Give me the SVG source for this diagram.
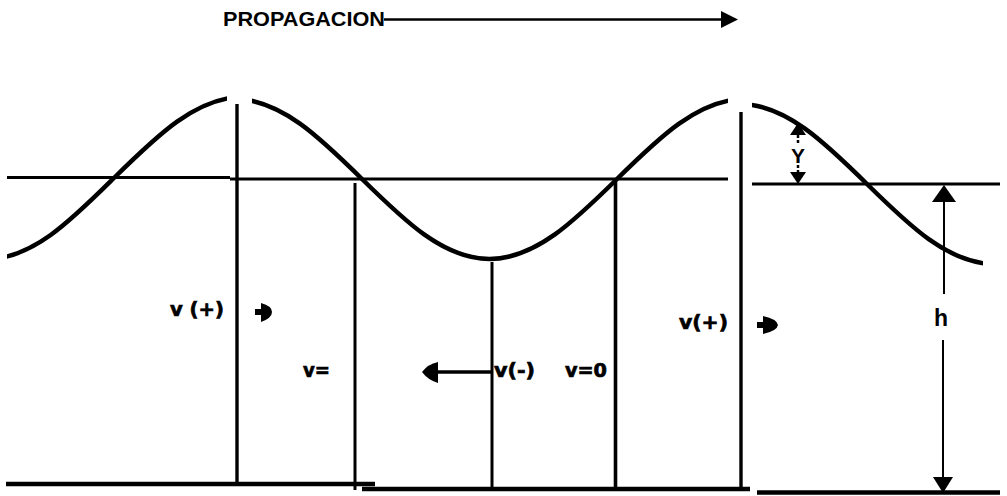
<svg xmlns="http://www.w3.org/2000/svg" width="1007" height="496" viewBox="0 0 1007 496">
<style>
.wave{fill:none;stroke:#000;stroke-width:4.5}
.ln{stroke:#000;stroke-width:3;fill:none}
.bl{stroke:#000;stroke-width:4.5;fill:none}
.thin{stroke:#000;stroke-width:2;fill:none}
.lbl{font-family:"DejaVu Sans","Liberation Sans",sans-serif;font-weight:bold;font-size:19px;fill:#000;stroke:#000;stroke-width:0.7}
.ttl{font-family:"Liberation Sans",Arial,sans-serif;font-weight:bold;font-size:20px;fill:#000}
.ah{fill:#000}
</style>
<defs>
<clipPath id="c1"><rect x="7" y="0" width="220" height="496"/></clipPath>
<clipPath id="c2"><rect x="252" y="0" width="476" height="496"/></clipPath>
<clipPath id="c3"><rect x="752" y="0" width="231" height="496"/></clipPath>
</defs>
<rect width="1007" height="496" fill="#fff"/>

<g id="title">
<text class="ttl" x="223" y="26" textLength="162" lengthAdjust="spacingAndGlyphs">PROPAGACION</text>
<line class="thin" x1="384" y1="19.5" x2="724" y2="19.5" style="stroke-width:2.6"/>
<polygon class="ah" points="721,11 738,19.5 721,28"/>
</g>

<g id="wave">
<path class="wave" clip-path="url(#c1)" d="M -12.5 259 C 33.6 259 73.4 218 115 177 C 156.6 136 196.4 97 242.5 97"/>
<path class="wave" clip-path="url(#c2)" d="M 234.5 99 C 280.6 99 320.4 138 362 179 C 403.6 220 443.4 259 489.5 259 C 535.6 259 575.4 220 617 179 C 658.6 138 698.4 99 744.5 99"/>
<path class="wave" clip-path="url(#c3)" d="M 739.5 104 C 785.6 104 825.4 143 867 184 C 908.6 225 948.4 264 994.5 264"/>
</g>

<g id="levels">
<line class="ln" x1="7" y1="177.5" x2="230" y2="177.5"/>
<line class="ln" x1="230" y1="179" x2="728" y2="179"/>
<line class="ln" x1="752" y1="184" x2="1000" y2="184"/>
</g>

<g id="verticals">
<line class="ln" x1="237" y1="104" x2="237" y2="485" style="stroke-width:3.4"/>
<line class="ln" x1="355" y1="183" x2="355" y2="490"/>
<line class="ln" x1="492" y1="262" x2="492" y2="489"/>
<line class="ln" x1="615.5" y1="179" x2="615.5" y2="489" style="stroke-width:3.6"/>
<line class="ln" x1="741" y1="112" x2="741" y2="489" style="stroke-width:3.4"/>
</g>

<g id="bottoms">
<line class="bl" x1="6" y1="484" x2="375" y2="484"/>
<line class="bl" x1="362" y1="489" x2="750" y2="489"/>
<line class="bl" x1="757" y1="492.5" x2="1000" y2="492.5"/>
</g>

<g id="dim-Y">
<polygon class="ah" points="798,123 806,135 790,135"/>
<line class="thin" x1="798" y1="135" x2="798" y2="145" stroke-dasharray="3,2" style="stroke-width:2.5"/>
<text class="ttl" x="798" y="163" text-anchor="middle" style="font-size:21px">Y</text>
<line class="thin" x1="798" y1="165" x2="798" y2="172" stroke-dasharray="3,2" style="stroke-width:2.5"/>
<polygon class="ah" points="790,172 806,172 798,184"/>
</g>

<g id="dim-h">
<polygon class="ah" points="944,185 956,202 932,202"/>
<line class="thin" x1="944" y1="202" x2="944" y2="294"/>
<text class="ttl" x="941" y="326" text-anchor="middle" style="font-size:23px">h</text>
<line class="thin" x1="943" y1="340" x2="943" y2="478"/>
<polygon class="ah" points="933,477 953,477 943,493"/>
</g>

<g id="labels">
<text class="lbl" x="170" y="316" textLength="54" lengthAdjust="spacingAndGlyphs">v (+)</text>
<path class="ah" d="M255,309 L261,309 L261,303 Q272,306 272,312 Q272,318 261,322 L261,315 L255,315 Z"/>
<text class="lbl" x="679" y="329" textLength="49" lengthAdjust="spacingAndGlyphs">v(+)</text>
<path class="ah" d="M757,322 L763,322 L763,316 Q777,319 778,325 Q777,331 763,334 L763,328 L757,328 Z"/>
<text class="lbl" x="303" y="377" textLength="27" lengthAdjust="spacingAndGlyphs">v=</text>
<text class="lbl" x="494" y="377" textLength="41" lengthAdjust="spacingAndGlyphs">v(-)</text>
<text class="lbl" x="565" y="377" textLength="42" lengthAdjust="spacingAndGlyphs">v=0</text>
<line class="ln" x1="436" y1="372" x2="492" y2="372" style="stroke-width:3.5"/>
<path class="ah" d="M422,372 Q428,364 438,362 L438,383 Q428,380 422,372 Z"/>
</g>
</svg>
